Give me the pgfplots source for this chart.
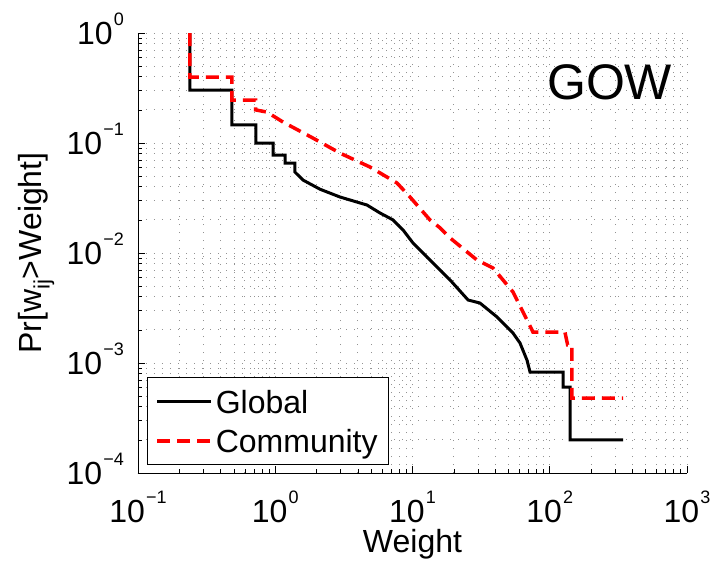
\documentclass[border=0pt]{standalone}
\usepackage{fontspec}
\setmainfont{Liberation Sans}
\usepackage{pgfplots}
\pgfplotsset{compat=1.18}
\newcommand{\tsup}[1]{\kern1pt\raisebox{19pt}{\fontsize{18}{18}\selectfont #1}}
\begin{document}
\begin{tikzpicture}
\useasboundingbox (0,0) rectangle (711pt,562pt);
\begin{axis}[
  at={(138pt,89pt)}, anchor=south west,
  scale only axis, width=549pt, height=440pt,
  xmode=log, ymode=log,
  xmin=0.1, xmax=1000, ymin=1e-4, ymax=1,
  axis x line*=bottom, axis y line*=left,
  axis line style={line width=0.8pt, -},
  tick align=inside,
  major tick length=7pt, minor tick length=4pt,
  tick style={black, line width=0.6pt},
  xtick={0.1,1,10,100,1000},
  xticklabels={10\tsup{−1},10\tsup{0},10\tsup{1},10\tsup{2},10\tsup{3}},
  ytick={1e-4,1e-3,1e-2,1e-1,1},
  yticklabels={10\tsup{−4},10\tsup{−3},10\tsup{−2},10\tsup{−1},10\tsup{0}},
  ticklabel style={font=\fontsize{32}{38}\selectfont, inner sep=0pt},
  xticklabel style={anchor=base, yshift=-49pt},
  yticklabel style={anchor=base east, xshift=-14pt, yshift=-11.5pt},
  grid=both,
  major grid style={gray!85, line width=0.8pt, dash pattern=on 1pt off 7pt},
  minor grid style={gray!85, line width=0.8pt, dash pattern=on 1pt off 7pt},
  xlabel={Weight},
  ylabel={Pr[w\textsubscript{ij}>Weight]},
  label style={font=\fontsize{32}{38}\selectfont},
  xlabel style={at={(axis description cs:0.5,-0.18)}, anchor=base},
  ylabel style={at={(axis description cs:-0.185,0.5)}, anchor=center},
  legend cell align=left,
  legend style={at={(axis description cs:0.0164,0.018)}, anchor=south west,
    draw=black, line width=0.6pt, fill=white,
    font=\fontsize{32}{38}\selectfont,
    inner xsep=8pt, inner ysep=5.5pt, row sep=2pt,
    nodes={inner sep=3pt, text height=27pt, text depth=4pt}},
  legend image code/.code={\draw[#1] (0pt,0pt) -- (54pt,0pt);},
]
\addplot[black, line width=3pt] coordinates {
(0.239,1.0) (0.239,0.303) (0.484,0.303) (0.484,0.146) (0.724,0.146)
(0.724,0.1) (0.964,0.1) (0.964,0.0778) (1.18,0.0778) (1.18,0.0658)
(1.39,0.0658) (1.39,0.0545) (1.59,0.0461) (2.12,0.0380) (2.96,0.0323)
(4.66,0.0273) (5.80,0.0231) (7.21,0.0200) (8.53,0.0162) (10.1,0.0123)
(14.1,0.0081) (18.8,0.00568) (25.4,0.00374) (31.0,0.00351) (41.3,0.00262)
(54.0,0.00187) (60.7,0.00152) (68.3,0.00106) (71.8,0.000828) (125,0.000828)
(125,0.000605) (140.5,0.000605) (140.5,0.0002) (342,0.0002)
};
\addlegendentry{Global}
\addplot[red, line width=3.5pt, dash pattern=on 13pt off 7pt] coordinates {
(0.239,1.0) (0.239,0.398) (0.484,0.398) (0.484,0.246) (0.72,0.246)
(0.72,0.2) (0.871,0.191) (1.14,0.155) (1.88,0.111) (2.96,0.081)
(4.90,0.0605) (7.71,0.0433) (9.59,0.0323) (13.4,0.0200) (15.9,0.0169)
(18.8,0.0137) (29.5,0.00863) (38.6,0.00731) (54.0,0.00442) (68.3,0.00246)
(75.5,0.00191) (129,0.00191) (135,0.00146) (145,0.00146) (145,0.00048)
(342,0.00048)
};
\addlegendentry{Community}
\node[font=\fontsize{50}{60}\selectfont, anchor=base, inner sep=0pt] at (axis description cs:0.859,0.848) {GOW};
\end{axis}
\end{tikzpicture}
\end{document}
